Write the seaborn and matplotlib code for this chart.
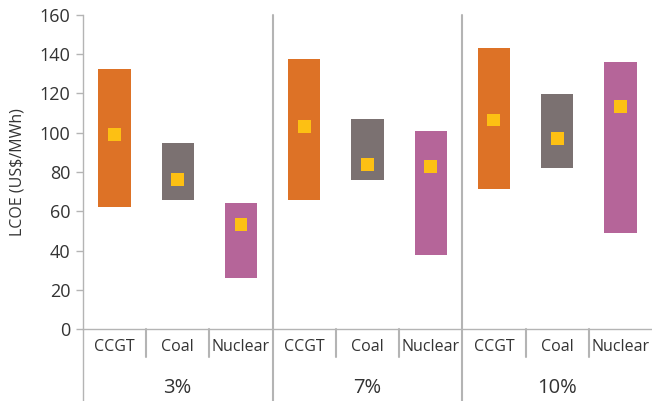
import matplotlib
matplotlib.use("Agg")
import matplotlib.pyplot as plt
import matplotlib.transforms as mtransforms
from matplotlib import font_manager
import seaborn as sns
import pandas as pd
import numpy as np

# Data
rates = ["3%", "7%", "10%"]
techs = ["CCGT", "Coal", "Nuclear"]
low = [62, 66, 26, 66, 76, 38, 71.5, 82, 49]
high = [132.5, 95, 64, 137.5, 107, 101, 143, 119.5, 136]
median = [99, 76, 53.5, 103, 84, 83, 106.5, 97, 113.5]

tech_colors = {"CCGT": "#DD7226", "Coal": "#7B7171", "Nuclear": "#B56599"}
marker_color = "#FDC013"
line_color = "#B4B4B4"
text_color = "#333333"

df = pd.DataFrame({
    "rate": np.repeat(rates, len(techs)),
    "tech": techs * len(rates),
    "low": low,
    "high": high,
    "median": median,
})
df["pos"] = np.arange(len(df))

sns.set_theme(style="white")
plt.rcParams["font.family"] = ["Open Sans", "DejaVu Sans"]

names = {f.name for f in font_manager.fontManager.ttflist}
narrow = "Liberation Sans Narrow" if "Liberation Sans Narrow" in names else "Open Sans"

fig = plt.figure(figsize=(6.52, 4.01), dpi=100)
ax = fig.add_axes([0.127, 0.179, 0.873, 0.784])

ax.bar(df["pos"], df["high"] - df["low"], bottom=df["low"], width=0.51,
       color=[tech_colors[t] for t in df["tech"]], linewidth=0)
sns.scatterplot(data=df, x="pos", y="median", marker="s", s=85,
                color=marker_color, edgecolor="none", ax=ax, zorder=3)

ax.set_xlim(-0.5, len(df) - 0.5)
ax.set_ylim(0, 160)
ax.set_yticks(range(0, 161, 20))
ax.set_xticks([])
ax.set_xlabel("")
ax.set_ylabel("LCOE (US$/MWh)", fontsize=11.5, color=text_color, labelpad=10)
ax.tick_params(axis="y", left=True, length=5, width=1, color=line_color,
               labelsize=13, labelcolor=text_color, pad=4)

for side in ["top", "right"]:
    ax.spines[side].set_visible(False)
for side in ["left", "bottom"]:
    ax.spines[side].set_color(line_color)
    ax.spines[side].set_linewidth(1)
ax.spines["left"].set_bounds(0, 160)

trans = mtransforms.blended_transform_factory(ax.transData, ax.transAxes)

# left axis line extends down through the label area
ax.plot([-0.5, -0.5], [0, -0.24], transform=trans, color=line_color,
        lw=1, clip_on=False)

# category labels and separators
for p, t in zip(df["pos"], df["tech"]):
    ax.text(p, -0.057, t, transform=trans, ha="center", va="center",
            fontsize=11.5, family=narrow, color=text_color)
for i in range(len(rates)):
    for j in (1, 2):
        x = i * len(techs) + j - 0.5
        ax.plot([x, x], [0, -0.088], transform=trans, color=line_color,
                lw=1.5, clip_on=False)
    ax.text(i * len(techs) + 1, -0.187, rates[i], transform=trans,
            ha="center", va="center", fontsize=14.5, color=text_color)
    if i > 0:
        x = i * len(techs) - 0.5
        ax.plot([x, x], [1, -0.24], transform=trans, color=line_color,
                lw=1.5, clip_on=False)

fig.savefig("out.png", dpi=100)
